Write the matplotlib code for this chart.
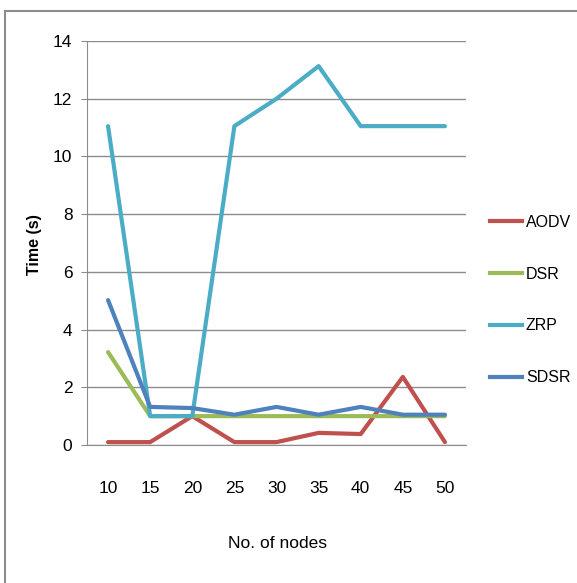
import matplotlib.pyplot as plt
from matplotlib import font_manager
from matplotlib.lines import Line2D

nodes = ['10', '15', '20', '25', '30', '35', '40', '45', '50']
aodv = [0.1, 0.1, 1.0, 0.1, 0.1, 0.42, 0.38, 2.36, 0.1]
dsr = [3.22, 1.0, 1.0, 1.0, 1.0, 1.0, 1.0, 1.0, 1.0]
zrp = [11.05, 1.0, 1.0, 11.05, 12.0, 13.13, 11.05, 11.05, 11.05]
sdsr = [5.02, 1.32, 1.28, 1.05, 1.32, 1.05, 1.32, 1.05, 1.05]

series = [('AODV', aodv, '#C0504D'), ('DSR', dsr, '#9BBB59'),
          ('ZRP', zrp, '#4BACC6'), ('SDSR', sdsr, '#4F81BD')]

names = {f.name for f in font_manager.fontManager.ttflist}
font = 'Liberation Sans Narrow' if 'Liberation Sans Narrow' in names else 'Liberation Sans'
plt.rcParams['font.family'] = [font, 'DejaVu Sans']

fig = plt.figure(figsize=(5.77, 5.83), dpi=100)
ax = fig.add_axes([87 / 577, 138 / 583, 379 / 577, 404 / 583])

x = range(len(nodes))
for name, vals, col in series:
    ax.plot(x, vals, color=col, lw=3, label=name, solid_capstyle='round')

ax.set_xlim(-0.5, len(nodes) - 0.5)
ax.set_ylim(0, 14)
ax.set_yticks(range(0, 15, 2))
ax.set_xticks(list(x))
ax.set_xticklabels(nodes)
ax.grid(axis='y', color='#8c8c8c', lw=1)
ax.set_axisbelow(True)
for s in ['top', 'right']:
    ax.spines[s].set_visible(False)
ax.spines['left'].set_color('#8c8c8c')
ax.spines['bottom'].set_color('#8c8c8c')
ax.tick_params(axis='y', length=4.5, color='#8c8c8c', labelsize=12.5, pad=6)
ax.tick_params(axis='x', length=0, labelsize=12.5, pad=26)

fig.text(35 / 577, 1 - 245 / 583, 'Time (s)', rotation=90, ha='center', va='center',
         fontsize=11.5, fontweight='bold')
fig.text(277 / 577, 1 - 543 / 583, 'No. of nodes', ha='center', va='center', fontsize=12.5)

handles = [Line2D([0], [0], color=c, lw=3) for _, _, c in series]
fig.legend(handles, [n for n, _, _ in series], loc='center left',
           bbox_to_anchor=(490 / 577, 1 - 300 / 583), frameon=False, fontsize=11.5,
           handlelength=2.0, handletextpad=0.25, labelspacing=2.3,
           borderpad=0, borderaxespad=0)

# chart frame (top and left edges only are visible)
fig.add_artist(Line2D([5 / 577, 1], [1 - 11 / 583] * 2, color='#8c8c8c', lw=1.5))
fig.add_artist(Line2D([5 / 577] * 2, [0, 1 - 11 / 583], color='#8c8c8c', lw=1.5))

fig.savefig('out.png', dpi=100)
